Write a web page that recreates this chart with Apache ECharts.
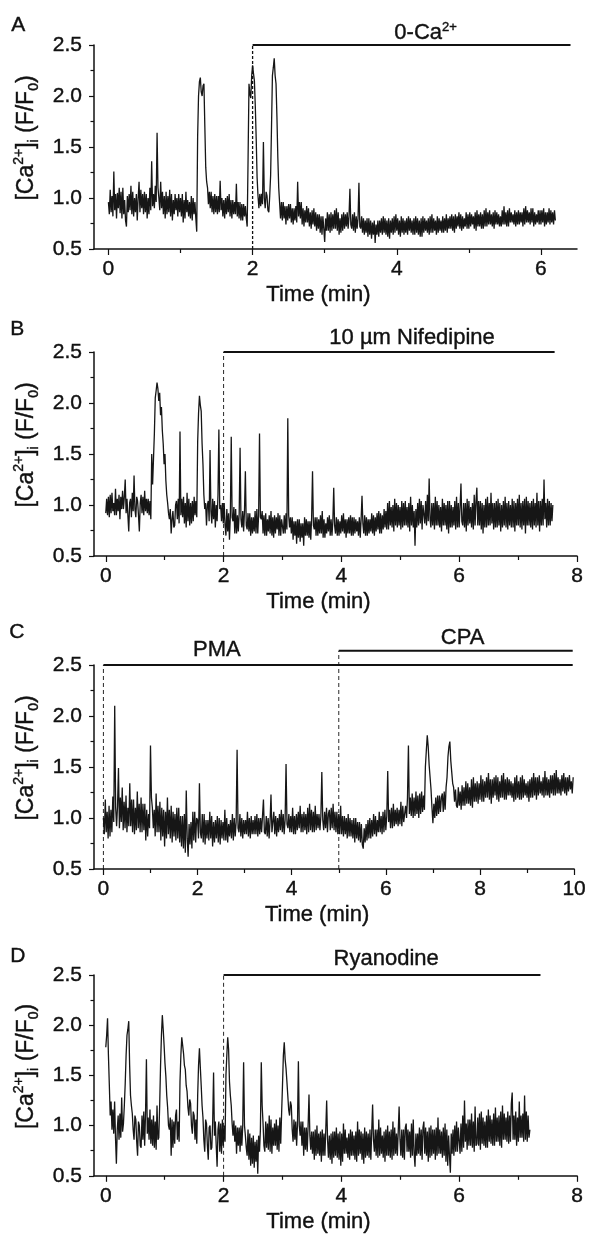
<!DOCTYPE html>
<html><head><meta charset="utf-8">
<script src="https://cdn.jsdelivr.net/npm/echarts@6/dist/echarts.min.js"></script>
<style>html,body{margin:0;padding:0;background:#fff}#c{width:589px;height:1234px}</style>
</head><body><div id="c"></div>
<script>
// sampling step of each recording (min)
const dtA = 0.0125, dtB = 0.015, dtC = 0.02, dtD = 0.015;

// Panel A: [Ca2+]i (F/F0), 0-Ca2+
const valuesA = [
0.96,0.84,1.08,0.86,1.02,0.82,1.26,0.88,1.04,0.80,1.05,0.90,1.10,0.85,1.06,0.80,1.10,0.84,0.98,0.78,
0.72,1.02,0.86,1.04,0.88,1.12,0.84,1.06,0.82,1.00,0.86,1.04,0.78,1.00,1.16,0.86,1.08,0.90,1.04,0.84,
1.06,0.86,1.04,0.80,1.00,0.84,1.10,0.88,1.36,0.92,1.04,0.90,1.12,0.96,1.64,1.10,1.00,0.88,1.16,0.90,
1.06,0.84,1.02,0.80,1.06,0.84,1.02,0.86,1.08,0.82,1.04,0.78,0.98,0.84,1.04,0.88,1.00,0.82,1.04,0.86,
1.00,0.82,1.04,0.76,0.98,0.80,1.06,0.86,0.98,0.82,0.96,0.80,1.02,0.78,1.00,0.84,0.96,0.80,0.67,1.60,
2.00,2.14,2.18,2.04,2.00,2.10,2.12,1.70,1.30,1.16,1.10,0.94,1.06,0.90,1.06,0.86,1.02,0.84,1.04,0.86,
1.02,0.84,1.02,0.86,1.17,0.88,1.00,0.82,0.98,0.80,1.00,0.84,1.02,0.86,1.04,0.82,0.98,0.80,0.98,0.84,
0.96,0.84,1.14,0.82,0.96,0.80,0.96,0.78,0.94,0.78,0.94,0.82,0.92,0.80,0.72,1.40,2.12,2.02,1.98,2.20,
2.30,2.22,2.15,1.90,1.58,1.20,1.02,0.90,1.04,0.92,1.04,0.94,1.55,1.00,0.90,1.06,1.02,0.88,0.86,1.02,
1.22,1.70,2.20,2.28,2.37,2.20,2.12,1.80,1.40,1.10,0.95,0.80,0.96,0.78,0.96,0.80,0.92,0.74,0.92,0.78,
0.94,0.80,0.94,0.76,0.90,0.74,0.90,0.78,0.92,0.76,1.16,0.82,0.96,0.80,0.96,0.74,0.90,0.72,0.88,0.76,
0.92,0.76,0.90,0.72,0.86,0.70,0.88,0.74,0.90,0.72,0.86,0.68,0.84,0.70,0.84,0.66,0.82,0.64,0.82,0.70,
0.57,0.80,0.68,0.86,0.68,0.84,0.66,0.86,0.68,0.84,0.70,0.88,0.70,0.90,0.68,0.86,0.64,0.80,0.66,0.84,
0.68,0.86,0.70,0.84,0.72,0.86,0.70,0.82,1.09,0.74,0.70,0.84,0.68,0.86,0.66,0.82,0.70,0.80,1.15,0.72,
0.70,0.82,0.66,0.80,0.64,0.78,0.66,0.80,0.62,0.80,0.64,0.78,0.60,0.76,0.64,0.78,0.56,0.74,0.64,0.78,
0.62,0.78,0.66,0.80,0.64,0.82,0.66,0.80,0.64,0.78,0.62,0.80,0.60,0.78,0.66,0.80,0.64,0.82,0.66,0.84,
0.68,0.80,0.64,0.78,0.62,0.82,0.66,0.80,0.64,0.78,0.66,0.80,0.64,0.82,0.68,0.80,0.66,0.78,0.64,0.80,
0.64,0.82,0.66,0.80,0.64,0.78,0.62,0.80,0.62,0.82,0.66,0.80,0.68,0.78,0.66,0.80,0.64,0.82,0.66,0.84,
0.66,0.80,0.68,0.78,0.64,0.82,0.66,0.80,0.68,0.78,0.66,0.82,0.66,0.80,0.68,0.84,0.66,0.80,0.70,0.82,
0.70,0.84,0.68,0.82,0.66,0.84,0.70,0.82,0.72,0.86,0.70,0.84,0.68,0.82,0.70,0.80,0.72,0.86,0.70,0.84,
0.70,0.86,0.72,0.84,0.74,0.82,0.70,0.86,0.68,0.88,0.72,0.84,0.72,0.86,0.70,0.84,0.70,0.88,0.72,0.90,
0.72,0.86,0.74,0.88,0.74,0.84,0.72,0.86,0.70,0.88,0.74,0.86,0.74,0.84,0.72,0.82,0.72,0.88,0.74,0.92,
0.74,0.86,0.72,0.88,0.72,0.90,0.76,0.86,0.76,0.84,0.74,0.88,0.72,0.86,0.74,0.88,0.74,0.86,0.76,0.86,
0.72,0.90,0.74,0.92,0.76,0.88,0.76,0.86,0.74,0.90,0.76,0.90,0.72,0.86,0.74,0.84,0.76,0.88,0.74,0.88,
0.74,0.88,0.76,0.90,0.72,0.86,0.74,0.86,0.76,0.90,0.74,0.88,0.76,0.86,0.74,0.88,0.78];

// Panel B: 10 µm Nifedipine
const valuesB = [
0.92,1.06,0.90,1.08,0.88,1.10,0.92,1.12,0.94,1.02,0.90,1.16,0.90,1.06,0.94,1.10,0.86,1.08,0.96,1.14,
0.96,1.08,1.25,0.92,1.06,0.90,0.74,1.02,1.06,0.88,1.12,0.94,1.29,0.96,0.88,1.08,1.04,0.90,0.74,1.02,
1.10,0.92,1.08,0.90,1.14,0.94,1.06,0.92,1.06,0.90,1.04,0.86,1.50,1.20,1.45,1.70,2.05,2.12,2.20,2.14,
2.02,2.10,1.88,1.96,1.73,1.60,1.40,1.50,1.24,1.10,1.02,0.92,0.86,0.96,0.72,0.86,0.94,0.78,0.80,1.00,
1.04,0.86,1.06,0.82,1.72,0.90,1.06,0.88,1.08,0.82,1.02,0.78,1.12,0.84,1.06,0.80,1.02,0.82,1.04,0.84,
1.08,0.90,1.04,0.88,1.62,1.90,2.07,1.98,1.92,1.60,1.40,1.10,0.96,1.02,0.80,1.00,1.04,0.84,1.54,0.94,
0.82,1.06,0.86,1.04,0.78,1.00,0.84,1.10,1.74,0.96,1.00,0.84,1.02,0.82,1.02,0.80,0.70,0.96,0.74,0.92,
0.66,0.90,1.67,0.88,0.84,0.98,0.72,0.96,0.72,0.90,0.74,0.92,1.56,0.86,0.78,0.94,0.74,0.94,1.33,0.80,
0.76,0.92,0.74,0.92,0.70,0.88,0.72,0.88,0.74,0.94,0.72,0.96,0.72,0.90,1.70,0.88,0.86,0.94,0.72,0.90,
0.70,0.92,0.70,0.86,0.74,0.90,0.72,0.94,0.70,0.88,0.68,0.90,0.72,0.88,0.76,0.92,0.70,0.90,0.70,0.86,
0.86,0.72,0.90,0.72,0.92,0.76,1.85,0.90,0.78,0.88,0.72,0.88,0.66,0.84,0.70,0.84,0.62,0.86,0.68,0.86,
0.64,0.82,0.68,0.82,0.60,0.88,0.70,0.86,0.70,0.84,0.68,0.84,0.66,0.88,1.33,0.80,0.76,0.88,0.70,0.88,
0.70,0.86,0.72,0.90,0.72,0.94,0.68,0.86,0.68,0.82,0.72,0.88,0.74,0.90,0.70,0.86,0.70,0.84,1.17,0.80,
0.72,0.88,0.70,0.86,0.70,0.84,0.72,0.90,0.74,0.92,0.72,0.86,0.68,0.86,0.72,0.88,0.72,0.90,0.70,0.88,
0.70,0.88,0.72,0.86,0.74,0.84,0.70,0.88,0.68,0.86,1.09,0.82,0.72,0.90,0.70,0.88,0.70,0.86,0.72,0.86,
0.74,0.92,0.72,0.90,0.70,0.88,0.74,0.92,0.76,0.94,0.72,0.92,0.72,0.90,0.76,0.96,0.78,0.94,0.76,1.02,
0.76,1.04,0.80,0.98,0.78,1.00,0.74,1.06,0.80,1.02,0.78,1.00,0.80,0.98,0.76,1.04,0.78,1.02,0.80,1.04,
0.80,0.98,0.78,1.02,0.74,1.08,0.80,1.00,0.78,0.94,0.60,0.96,0.78,1.02,0.80,1.06,0.82,1.04,0.76,1.00,
1.00,0.82,1.04,0.80,1.10,0.84,1.26,0.86,0.78,1.02,0.80,1.02,0.76,1.08,0.80,1.04,0.80,1.00,0.78,0.98,
0.74,1.06,0.80,1.02,0.80,1.00,0.76,1.04,0.72,1.04,0.78,1.00,0.78,0.98,0.80,1.04,0.76,1.08,0.78,1.02,
0.78,0.98,1.21,0.84,0.80,1.02,0.78,1.02,0.74,1.06,0.80,1.04,0.82,0.98,0.78,1.02,0.76,1.10,0.80,1.04,
1.17,0.80,1.04,0.80,1.04,0.76,1.02,0.72,1.00,0.78,1.06,0.78,1.08,0.80,1.02,0.80,1.12,0.82,1.02,0.76,
1.02,0.78,1.04,0.78,1.06,0.80,1.02,0.74,1.00,0.78,1.04,0.80,1.08,0.78,1.02,0.76,1.04,0.80,1.00,0.78,
1.06,0.78,1.04,0.74,1.02,0.80,1.06,0.80,1.10,0.78,1.02,0.76,1.04,0.80,1.06,0.72,1.08,0.80,1.04,0.80,
1.02,0.78,1.04,0.76,1.06,0.80,1.02,0.78,1.12,0.80,1.04,0.74,1.04,0.80,1.06,0.80,1.25,0.86,1.02,0.78,
1.06,0.80,1.04,0.80,1.02,0.84,1.00];

// Panel C: PMA, then CPA
const valuesC = [
1.00,0.84,1.18,0.86,1.06,0.80,1.12,0.82,1.08,0.86,1.21,0.96,2.10,1.10,0.92,1.12,1.49,0.90,1.20,0.96,
1.30,0.88,1.16,0.90,1.22,0.86,1.10,0.92,1.34,0.92,1.18,0.86,1.18,0.84,1.10,0.88,1.26,0.90,1.14,0.86,
1.20,0.86,1.14,0.88,1.14,0.78,1.08,0.82,1.04,0.90,1.71,1.20,1.10,0.90,1.08,0.82,1.24,0.86,1.12,0.86,
1.16,0.78,1.10,0.82,1.08,0.72,1.06,0.80,1.20,0.84,1.08,0.80,1.12,0.76,1.06,0.82,1.04,0.78,1.10,0.80,
1.10,0.76,1.02,0.72,1.02,0.70,1.04,0.66,1.27,0.80,0.62,0.94,0.74,0.96,0.70,1.06,0.78,1.06,0.76,1.00,
0.98,0.80,1.34,0.86,0.80,1.04,0.76,1.04,0.74,0.98,0.80,0.98,0.78,1.06,0.80,1.02,0.72,0.96,0.76,0.98,
0.80,1.02,0.76,1.00,0.74,0.98,0.80,0.96,0.78,1.08,0.78,1.00,0.76,0.94,0.82,0.98,0.80,1.04,0.78,1.00,
0.82,0.96,1.67,0.90,0.86,1.04,0.82,1.00,0.80,0.98,0.84,0.98,0.84,1.06,0.82,1.00,0.80,1.02,0.84,0.98,
0.84,1.02,0.84,1.04,0.82,1.00,0.84,1.00,0.86,1.02,1.18,0.86,0.84,1.02,0.82,1.00,0.80,0.96,1.23,0.86,
0.86,1.06,0.84,1.02,0.82,1.00,0.86,1.04,0.88,1.08,0.86,1.04,0.84,0.98,1.53,0.94,0.90,1.04,0.86,1.02,
0.86,1.10,0.84,1.02,0.84,1.04,0.88,1.06,0.90,1.12,0.86,1.04,0.86,1.06,0.88,1.04,0.84,1.10,0.86,1.14,
0.88,1.08,0.86,1.06,0.86,1.12,0.88,1.04,0.90,1.04,0.88,1.02,1.45,0.98,0.88,1.06,0.90,1.10,0.86,1.04,
1.08,0.88,1.10,0.90,1.14,0.88,1.06,0.86,1.06,0.84,1.04,0.84,1.12,0.84,1.02,0.82,1.02,0.84,1.00,0.80,
1.04,0.82,1.00,0.82,0.98,0.80,1.00,0.76,1.00,0.80,0.96,0.78,0.96,0.76,0.94,0.74,0.70,0.90,0.76,0.94,
0.78,0.98,0.80,1.00,0.80,0.98,0.82,1.04,0.84,1.02,0.82,0.98,0.86,1.06,0.86,1.02,0.84,1.06,0.86,1.08,
0.88,1.02,1.46,0.96,1.08,0.90,1.10,0.90,1.14,0.92,1.08,0.94,1.10,0.92,1.08,0.94,1.16,0.92,1.12,0.96,
0.96,1.12,1.00,1.20,1.71,1.04,1.20,1.02,1.24,1.00,1.20,1.02,1.26,1.04,1.22,1.00,1.24,1.04,1.26,1.06,
1.22,1.08,1.50,1.66,1.81,1.70,1.52,1.40,1.28,1.10,0.95,1.14,1.00,1.20,1.02,1.22,1.04,1.22,1.06,1.20,
1.24,1.06,1.26,1.08,1.30,1.40,1.60,1.70,1.75,1.56,1.45,1.34,1.30,1.16,1.28,1.12,1.10,1.30,1.12,1.26,
1.08,1.32,1.12,1.30,1.12,1.36,1.14,1.34,1.14,1.30,1.12,1.38,1.10,1.40,1.16,1.34,1.16,1.36,1.14,1.34,
1.18,1.42,1.16,1.38,1.16,1.36,1.20,1.40,1.20,1.44,1.18,1.38,1.14,1.38,1.20,1.40,1.22,1.42,1.18,1.40,
1.16,1.36,1.20,1.42,1.20,1.44,1.18,1.38,1.18,1.40,1.22,1.38,1.22,1.36,1.20,1.34,1.16,1.40,1.18,1.42,
1.20,1.36,1.18,1.40,1.18,1.42,1.20,1.38,1.22,1.34,1.20,1.36,1.16,1.38,1.20,1.40,1.20,1.44,1.22,1.40,
1.18,1.40,1.22,1.42,1.24,1.36,1.22,1.40,1.20,1.46,1.22,1.40,1.22,1.38,1.20,1.42,1.24,1.42,1.22,1.44,
1.22,1.47,1.24,1.40,1.24,1.38,1.22,1.42,1.26,1.44,1.24,1.40,1.22,1.40,1.26,1.42,1.28,1.36,1.24,1.40];

// Panel D: Ryanodine
const valuesD = [
1.78,1.90,2.07,1.70,1.41,1.10,1.24,0.96,1.16,0.92,1.24,0.88,0.62,0.96,1.10,0.86,1.12,0.88,1.28,0.94,
1.02,1.20,1.42,1.70,1.90,1.96,2.04,1.60,1.30,1.20,1.12,0.96,0.86,1.10,1.06,0.84,0.70,1.04,1.00,0.80,
0.78,1.10,0.86,1.14,0.80,1.12,1.66,0.92,1.08,0.86,1.16,0.82,1.06,0.80,1.10,0.78,1.04,0.76,1.20,0.86,
0.88,1.20,1.60,1.90,2.10,1.96,1.80,1.62,1.49,1.30,1.18,1.00,0.96,1.08,0.70,1.06,0.78,1.04,0.82,1.10,
1.16,0.86,1.04,0.84,1.44,1.70,1.88,1.80,1.72,1.60,1.56,1.40,1.34,1.18,1.10,1.26,1.22,1.00,0.92,1.14,
1.10,0.86,1.06,0.82,1.30,1.60,1.77,1.58,1.40,1.20,1.08,0.86,0.74,1.06,1.02,0.80,0.66,0.98,1.00,0.76,
0.78,1.04,1.53,0.90,1.04,0.80,0.59,0.96,1.04,0.74,1.02,0.72,1.06,0.80,1.00,0.84,1.50,1.70,1.88,1.76,
1.44,1.30,1.20,1.02,0.90,1.05,0.84,1.00,0.72,0.98,0.80,0.98,0.74,1.00,0.80,1.00,1.63,1.00,0.90,0.78,
0.70,0.96,0.66,0.92,0.60,0.88,0.62,0.90,0.58,0.84,0.64,0.86,0.52,0.90,0.74,0.96,1.63,1.20,1.02,0.80,
0.74,1.04,0.78,1.02,0.76,1.10,0.74,1.06,0.72,0.98,0.80,1.02,0.80,1.06,0.76,1.00,0.74,1.08,0.82,1.12,
1.40,1.70,1.83,1.66,1.57,1.44,1.30,1.16,1.10,1.24,1.20,0.96,0.84,1.06,0.86,1.04,0.80,1.02,1.64,1.00,
0.90,1.04,0.80,1.04,0.70,0.98,0.76,0.98,0.74,1.00,1.31,0.90,0.76,0.94,0.72,0.94,0.66,0.96,0.70,1.00,
0.72,0.92,0.70,0.94,0.64,0.96,0.70,0.92,0.70,0.96,1.25,0.86,0.68,0.90,0.66,0.92,0.62,0.94,0.68,0.94,
0.70,0.98,0.68,0.92,0.66,0.94,0.60,0.92,0.64,1.02,0.72,0.96,0.72,0.88,0.68,0.92,0.66,0.96,0.70,0.94,
0.70,0.90,0.66,0.94,0.64,1.04,0.70,0.96,0.72,0.94,0.66,0.92,0.62,0.98,0.68,0.94,0.70,0.92,0.68,0.96,
0.66,0.94,1.21,0.86,0.74,0.96,0.70,0.96,0.68,1.06,0.70,0.98,0.72,0.90,0.68,0.94,0.64,0.96,0.70,1.00,
0.70,0.94,0.68,0.96,0.66,1.04,0.70,0.98,0.72,0.92,0.70,0.94,1.19,0.86,0.70,0.96,0.68,0.96,0.66,0.98,
1.02,0.74,0.96,0.74,0.94,0.68,1.02,0.70,1.06,0.72,0.59,0.92,0.70,0.92,0.72,0.98,0.70,0.96,0.66,0.98,
1.04,0.72,0.98,0.70,0.94,0.64,0.98,0.68,1.00,0.70,0.96,0.72,0.96,0.66,0.98,0.70,1.08,0.72,0.96,0.72,
0.94,0.68,0.98,0.70,1.02,0.64,0.96,0.60,0.90,0.70,0.53,0.92,0.72,0.96,0.70,1.00,0.74,1.04,0.74,0.98,
0.98,0.72,1.02,0.74,1.10,0.78,1.25,0.84,1.02,0.76,1.06,0.80,1.06,0.80,1.12,0.78,1.04,0.74,1.19,0.80,
0.82,1.08,0.80,1.12,0.76,1.14,0.82,1.08,0.80,1.04,0.78,1.10,0.78,1.16,0.84,1.10,0.82,1.06,0.80,1.12,
0.80,1.18,0.84,1.08,0.84,1.10,0.80,1.14,0.78,1.20,0.86,1.12,0.86,1.08,0.84,1.14,0.82,1.10,0.84,1.22,
1.33,0.86,1.10,0.86,1.14,0.80,1.08,0.84,1.24,0.88,1.10,0.88,1.12,0.84,1.30,0.86,1.14,0.84,1.10,0.88,
0.96];

// axes
const xMaxA = 6.5, xMaxB = 8, xMaxC = 10, xMaxD = 8;
const xTicksA = [0, 2, 4, 6],        xMinorA = [1, 3, 5];
const xTicksB = [0, 2, 4, 6, 8],     xMinorB = [1, 3, 5, 7];
const xTicksC = [0, 2, 4, 6, 8, 10], xMinorC = [1, 3, 5, 7, 9];
const xTicksD = [0, 2, 4, 6, 8],     xMinorD = [1, 3, 5, 7];

// treatment bars: [start (min), end (min), level (F/F0)]
const treatA = [[2, 6.41, 2.5]];
const treatB = [[2, 7.62, 2.5]];
const treatC = [[0, 9.97, 2.5], [5, 9.97, 2.64]];
const treatD = [[2, 7.38, 2.5]];
// treatment labels: [time (min), level, text]
const labelsA = [[4.40, 2.5, '{m|0-Ca}{s|2+}']];
const labelsB = [[5.20, 2.5, '10 µm Nifedipine']];
const labelsC = [[2.41, 2.5, 'PMA'], [7.63, 2.64, 'CPA']];
const labelsD = [[4.76, 2.5, 'Ryanodine']];

const FONT = "'Liberation Sans', Arial, Helvetica, sans-serif";
const INK = '#111111';
const BOLDEN = {textBorderColor: INK, textBorderWidth: 0.4};

function series(vals, dt) { return vals.map((v, i) => [+(i * dt).toFixed(4), v]); }

const panels = [
  {vals: valuesA, dt: dtA, xMax: xMaxA, ticks: xTicksA, minor: xMinorA, treat: treatA, labels: labelsA,
   top: 45, letter: 'A', letterTop: 15, letterLeft: 11, dash: [3, 2], dashW: 1.3, lblDist: [0]},
  {vals: valuesB, dt: dtB, xMax: xMaxB, ticks: xTicksB, minor: xMinorB, treat: treatB, labels: labelsB,
   top: 352, letter: 'B', letterTop: 319, letterLeft: 10, dash: [4, 3], dashW: 0.9, lblDist: [3]},
  {vals: valuesC, dt: dtC, xMax: xMaxC, ticks: xTicksC, minor: xMinorC, treat: treatC, labels: labelsC,
   top: 665, letter: 'C', letterTop: 622, letterLeft: 9, dash: [4, 3], dashW: 0.9, lblDist: [4, 2]},
  {vals: valuesD, dt: dtD, xMax: xMaxD, ticks: xTicksD, minor: xMinorD, treat: treatD, labels: labelsD,
   top: 975, letter: 'D', letterTop: 946, letterLeft: 10, dash: [4, 3], dashW: 0.9, lblDist: [5]}
];

const grid = [], xAxis = [], yAxis = [], allSeries = [], graphic = [];
const yName = '{m|[Ca}{s|2+}{m|]}{b|i}{m| (F/F}{b|0}{m|)}';
const richText = {
  m: Object.assign({fontSize: 23, fontFamily: FONT, color: INK, lineHeight: 29}, BOLDEN),
  s: Object.assign({fontSize: 14, fontFamily: FONT, color: INK, lineHeight: 14, verticalAlign: 'top'}, BOLDEN),
  b: Object.assign({fontSize: 14, fontFamily: FONT, color: INK, lineHeight: 14, verticalAlign: 'bottom'}, BOLDEN)
};

panels.forEach((p, g) => {
  grid.push({left: 94, top: p.top, width: 483, height: 204});
  const xi = xAxis.length;
  xAxis.push({
    gridIndex: g, type: 'value', min: -0.2, max: p.xMax, position: 'bottom',
    axisLine: {show: true, onZero: false, lineStyle: {color: INK, width: 1.5}},
    axisTick: {show: true, inside: false, length: 6, customValues: p.ticks, lineStyle: {color: INK, width: 1.2}},
    axisLabel: Object.assign({show: true, customValues: p.ticks, margin: 10, fontSize: 21, color: INK, fontFamily: FONT}, BOLDEN),
    splitLine: {show: false},
    name: 'Time (min)', nameLocation: 'middle', nameGap: 35,
    nameTextStyle: Object.assign({fontSize: 22, color: INK, fontFamily: FONT, padding: [0, 34, 0, 0]}, BOLDEN)
  });
  xAxis.push({
    gridIndex: g, type: 'value', min: -0.2, max: p.xMax, position: 'bottom',
    axisLine: {show: false}, axisLabel: {show: false}, splitLine: {show: false},
    axisTick: {show: true, inside: false, length: 4, customValues: p.minor, lineStyle: {color: INK, width: 1.2}}
  });
  yAxis.push({
    gridIndex: g, type: 'value', min: 0.5, max: 2.5, interval: 0.5,
    axisLine: {show: true, onZero: false, lineStyle: {color: INK, width: 1.5}},
    axisTick: {show: true, inside: false, length: 5, lineStyle: {color: INK, width: 1.2}},
    minorTick: {show: true, splitNumber: 2, length: 3.5, lineStyle: {color: INK, width: 1.2}},
    axisLabel: Object.assign({formatter: v => v.toFixed(1), margin: 12, fontSize: 21, color: INK, fontFamily: FONT}, BOLDEN),
    splitLine: {show: false}, minorSplitLine: {show: false},
    name: yName, nameLocation: 'middle', nameRotate: 90, nameGap: 50,
    nameTextStyle: {rich: richText, padding: [0, 0, 0, 18]}
  });
  // trace
  allSeries.push({
    type: 'line', xAxisIndex: xi, yAxisIndex: g, data: series(p.vals, p.dt),
    symbol: 'none', showSymbol: false, silent: true, z: 3, sampling: null,
    lineStyle: {color: '#161616', width: 1.3}
  });
  // treatment bars + dashed onset lines
  p.treat.forEach(t => {
    allSeries.push({
      type: 'line', xAxisIndex: xi, yAxisIndex: g, clip: false, silent: true, z: 4,
      data: [[t[0], t[2]], [t[1], t[2]]], symbol: 'none',
      lineStyle: {color: INK, width: 2}
    });
    allSeries.push({
      type: 'line', xAxisIndex: xi, yAxisIndex: g, clip: false, silent: true, z: 4,
      data: [[t[0], 0.5], [t[0], t[2]]], symbol: 'none',
      lineStyle: {color: INK, width: p.dashW, type: p.dash}
    });
  });
  p.labels.forEach((l, k) => {
    allSeries.push({
      type: 'scatter', xAxisIndex: xi, yAxisIndex: g, clip: false, silent: true, z: 5,
      data: [[l[0], l[1]]], symbolSize: 0, itemStyle: {color: INK, opacity: 1},
      label: Object.assign({show: true, position: 'top', distance: p.lblDist[k], formatter: l[2],
        fontSize: 22, fontFamily: FONT, color: INK, opacity: 1,
        rich: {m: Object.assign({fontSize: 22, fontFamily: FONT, color: INK, lineHeight: 24}, BOLDEN),
               s: Object.assign({fontSize: 13, fontFamily: FONT, color: INK, lineHeight: 13, verticalAlign: 'top'}, BOLDEN)}}, BOLDEN)
    });
  });
  graphic.push({type: 'text', left: p.letterLeft, top: p.letterTop,
    style: {text: p.letter, fontSize: 21, fontFamily: FONT, fill: INK, stroke: INK, lineWidth: 0.4}});
});

const chart = echarts.init(document.getElementById('c'), null, {renderer: 'canvas'});
chart.setOption({
  animation: false, backgroundColor: '#fff',
  grid, xAxis, yAxis, series: allSeries, graphic
});
</script></body></html>
